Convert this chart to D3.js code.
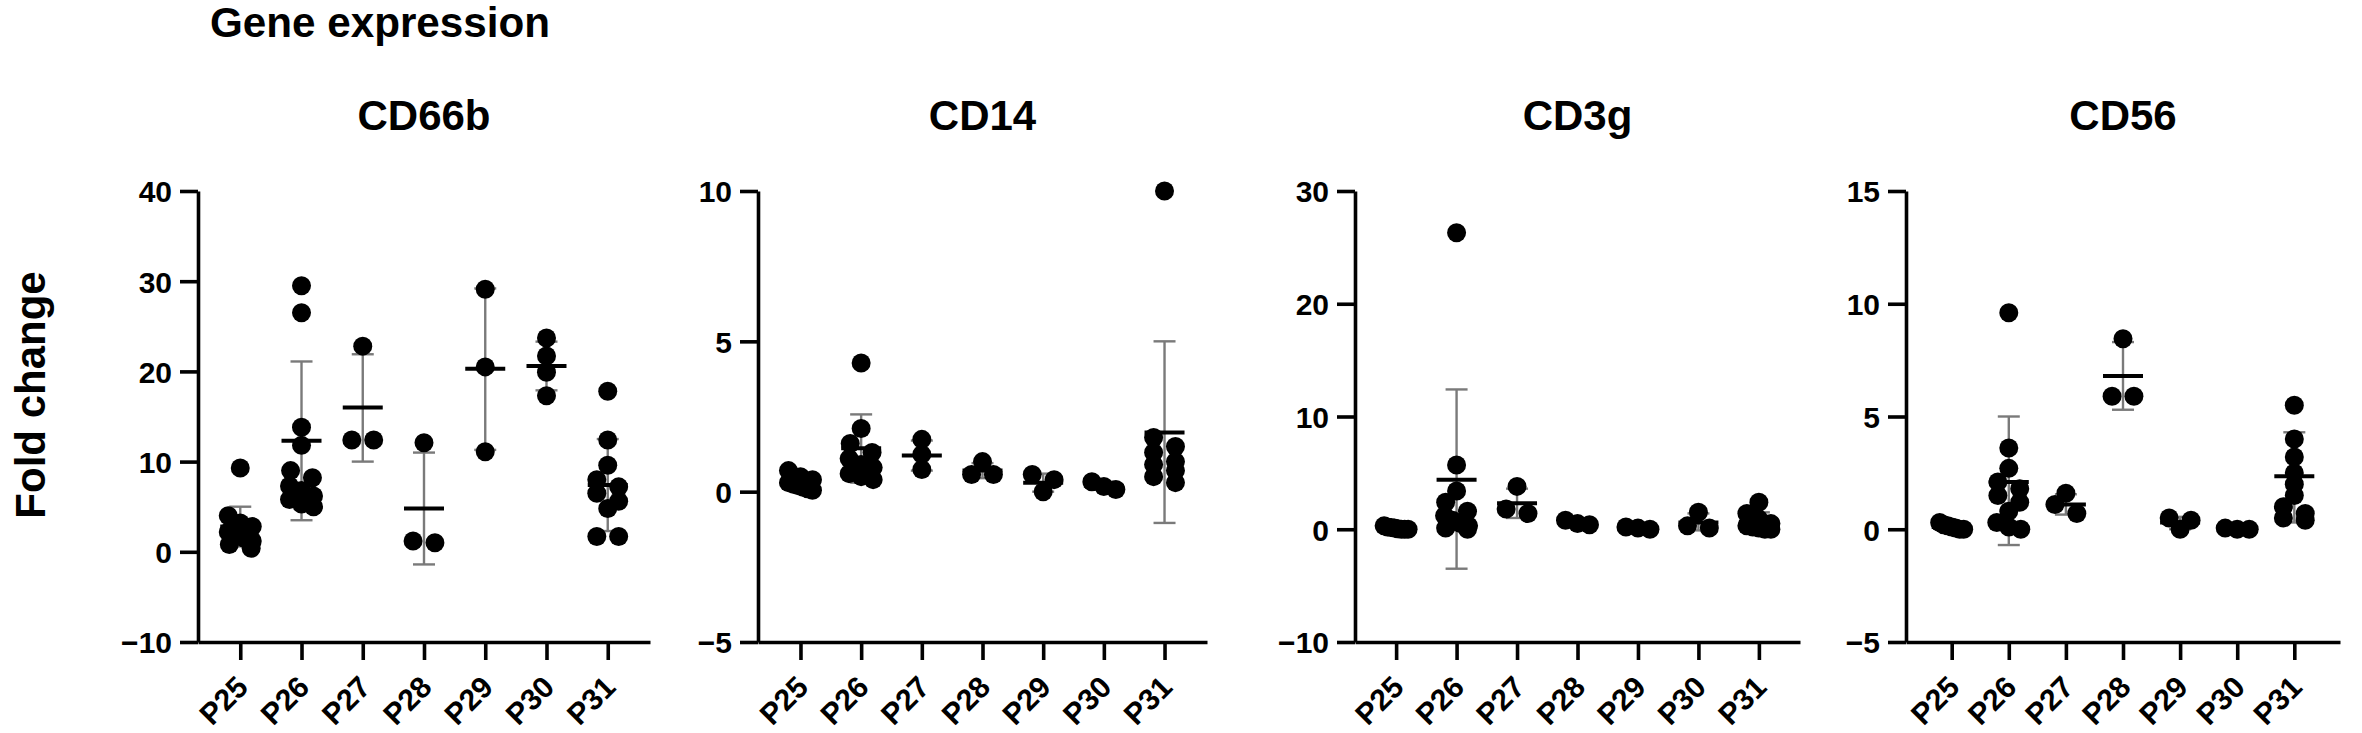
<!DOCTYPE html>
<html><head><meta charset="utf-8">
<script src="https://cdn.jsdelivr.net/npm/d3@7"></script>
<style>body{margin:0;background:#fff} svg{display:block}</style>
</head><body><svg id="c" width="2362" height="733"></svg>
<script>
// ---------- data ----------
const categories = ["P25","P26","P27","P28","P29","P30","P31"];
const genes = ["CD66b","CD14","CD3g","CD56"];

const yTicksCD66b = [-10,0,10,20,30,40];
const yTicksCD14  = [-5,0,5,10];
const yTicksCD3g  = [-10,0,10,20,30];
const yTicksCD56  = [-5,0,5,10,15];

const cd66bValues = [
  [9.3,4.0,3.2,2.8,2.2,1.8,1.5,1.2,0.8,0.4],
  [29.5,26.5,13.8,11.8,9.0,8.2,7.3,6.8,6.2,5.8,5.3,5.0],
  [22.8,12.4,12.4],
  [12.1,1.0,1.2],
  [29.1,20.5,11.1],
  [23.7,21.7,19.9,17.3],
  [17.8,12.4,9.6,8.0,7.2,6.5,5.6,4.8,1.7,1.7]
];
const cd66bMean = [2.8,12.3,16.0,4.8,20.3,20.6,7.4];
const cd66bLow  = [0.6,3.5,10.0,-1.4,11.3,17.9,2.3];
const cd66bHigh = [5.0,21.1,21.9,11.0,29.2,23.3,12.5];

const cd14Values = [
  [0.7,0.5,0.4,0.3,0.25,0.2,0.15,0.1,0.05],
  [4.28,2.1,1.6,1.3,1.1,0.9,0.8,0.6,0.5,0.4],
  [1.74,1.24,0.74],
  [1.0,0.57,0.57],
  [0.57,0.4,0.0],
  [0.33,0.17,0.07],
  [10.0,1.8,1.5,1.3,1.0,0.9,0.7,0.5,0.3]
];
const cd14Mean = [0.3,1.44,1.2,0.7,0.3,0.2,1.97];
const cd14Low  = [0.1,0.3,0.7,0.45,0.0,0.07,-1.04];
const cd14High = [0.5,2.57,1.7,0.95,0.6,0.33,5.0];

const cd3gValues = [
  [0.3,0.2,0.15,0.1,0.05,0.0,0.0,0.0],
  [26.3,5.7,3.4,2.4,1.6,1.2,0.8,0.5,0.3,0.1,0.0],
  [3.8,1.8,1.4],
  [0.8,0.5,0.4],
  [0.2,0.1,0.0],
  [1.5,0.3,0.1],
  [2.4,1.4,0.9,0.5,0.3,0.2,0.1,0.0,0.0]
];
const cd3gMean = [0.1,4.4,2.3,0.55,0.1,0.6,0.65];
const cd3gLow  = [0.0,-3.5,1.0,0.4,0.0,-0.1,-0.2];
const cd3gHigh = [0.2,12.4,3.6,0.7,0.2,1.4,1.5];

const cd56Values = [
  [0.3,0.2,0.15,0.1,0.05,0.0,0.0],
  [9.6,3.6,2.7,2.1,1.8,1.5,1.2,0.8,0.3,0.1,0.0],
  [1.6,1.1,0.7],
  [8.45,5.9,5.9],
  [0.5,0.4,0.0],
  [0.05,0.0,0.0],
  [5.5,4.0,3.2,2.5,2.0,1.5,1.0,0.7,0.5,0.4]
];
const cd56Mean = [0.1,2.1,1.1,6.8,0.3,0.02,2.35];
const cd56Low  = [0.0,-0.7,0.65,5.3,0.0,0.0,0.3];
const cd56High = [0.2,5.0,1.55,8.3,0.55,0.05,4.3];

const panelData = [
  {title:genes[0], ticks:yTicksCD66b, values:cd66bValues, mean:cd66bMean, low:cd66bLow, high:cd66bHigh},
  {title:genes[1], ticks:yTicksCD14,  values:cd14Values,  mean:cd14Mean,  low:cd14Low,  high:cd14High},
  {title:genes[2], ticks:yTicksCD3g,  values:cd3gValues,  mean:cd3gMean,  low:cd3gLow,  high:cd3gHigh},
  {title:genes[3], ticks:yTicksCD56,  values:cd56Values,  mean:cd56Mean,  low:cd56Low,  high:cd56High}
];

// ---------- layout ----------
const layout = [
  {x0:198,  x1:650,  pad:0.69},
  {x0:758,  x1:1207, pad:0.70},
  {x0:1355, x1:1800, pad:0.68},
  {x0:1906, x1:2340, pad:0.80}
];
const yTop = 191, yBot = 642;
const R = 9.5;
const FONT = "'Liberation Sans', Arial, Helvetica, sans-serif";

const svg = d3.select("#c");

svg.append("text")
  .attr("x", 210).attr("y", 37)
  .attr("font-family", FONT).attr("font-weight", "bold")
  .attr("font-size", 42)
  .attr("textLength", 340).attr("lengthAdjust", "spacingAndGlyphs")
  .text("Gene expression");

svg.append("text")
  .attr("transform", "translate(45,395) rotate(-90)")
  .attr("text-anchor", "middle")
  .attr("font-family", FONT).attr("font-weight", "bold")
  .attr("font-size", 42)
  .text("Fold change");

// rows of near-equal values are spread symmetrically around the category
function swarm(vals, y, x) {
  const order = vals.map((v,i)=>i).sort((a,b)=>vals[b]-vals[a]);
  const rows = [];
  order.forEach(i => {
    const py = y(vals[i]);
    const last = rows[rows.length-1];
    if (last && Math.abs(py - last.y0) < R*1.15) last.items.push(i);
    else rows.push({y0: py, items:[i]});
  });
  const out = [];
  rows.forEach(row => {
    const n = row.items.length;
    const sp = n > 1 ? Math.min(R*2.3, 24/(n-1)) : 0;
    row.items.forEach((i, k) => {
      out.push({x: x + (k - (n-1)/2) * sp, y: y(vals[i]), v: vals[i]});
    });
  });
  return out;
}

panelData.forEach((pd, pi) => {
  const L = layout[pi];
  const y = d3.scaleLinear().domain(d3.extent(pd.ticks)).range([yBot, yTop]);
  const x = d3.scalePoint().domain(categories).range([L.x0, L.x1]).padding(L.pad);
  const g = svg.append("g");

  g.append("text")
    .attr("x", (L.x0 + L.x1)/2).attr("y", 130)
    .attr("text-anchor", "middle")
    .attr("font-family", FONT).attr("font-weight", "bold")
    .attr("font-size", 42)
    .text(pd.title);

  const ya = g.append("g").attr("transform", `translate(${L.x0},0)`)
    .call(d3.axisLeft(y).tickValues(pd.ticks).tickSize(18).tickSizeOuter(0).tickPadding(8));
  const xa = g.append("g").attr("transform", `translate(0,${yBot})`)
    .call(d3.axisBottom(x).tickSize(18).tickSizeOuter(0));
  [ya, xa].forEach(a => {
    a.selectAll("path.domain").attr("stroke", "#000").attr("stroke-width", 3.6);
    a.selectAll(".tick line").attr("stroke", "#000").attr("stroke-width", 3.6);
    a.selectAll("text").attr("font-family", FONT).attr("font-weight", "bold")
      .attr("font-size", 30).attr("fill", "#000");
  });
  ya.selectAll("text").attr("dy", "0.36em");
  xa.selectAll(".tick text")
    .attr("y", 0).attr("dy", 0)
    .attr("text-anchor", "end")
    .attr("transform", "translate(9,47) rotate(-45)");

  categories.forEach((c, ci) => {
    const cx = x(c);
    const eg = g.append("g").attr("stroke", "#7a7a7a").attr("stroke-width", 2.4);
    eg.append("line").attr("x1", cx).attr("x2", cx)
      .attr("y1", y(pd.low[ci])).attr("y2", y(pd.high[ci]));
    [pd.low[ci], pd.high[ci]].forEach(v => {
      eg.append("line").attr("x1", cx - 11).attr("x2", cx + 11)
        .attr("y1", y(v)).attr("y2", y(v));
    });
  });

  categories.forEach((c, ci) => {
    const pts = swarm(pd.values[ci], y, x(c));
    g.append("g").selectAll("circle").data(pts).join("circle")
      .attr("cx", d => d.x).attr("cy", d => d.y).attr("r", R)
      .attr("fill", "#000");
  });

  categories.forEach((c, ci) => {
    g.append("line")
      .attr("x1", x(c) - 20).attr("x2", x(c) + 20)
      .attr("y1", y(pd.mean[ci])).attr("y2", y(pd.mean[ci]))
      .attr("stroke", "#000").attr("stroke-width", 4);
  });
});
</script>
</body></html>
